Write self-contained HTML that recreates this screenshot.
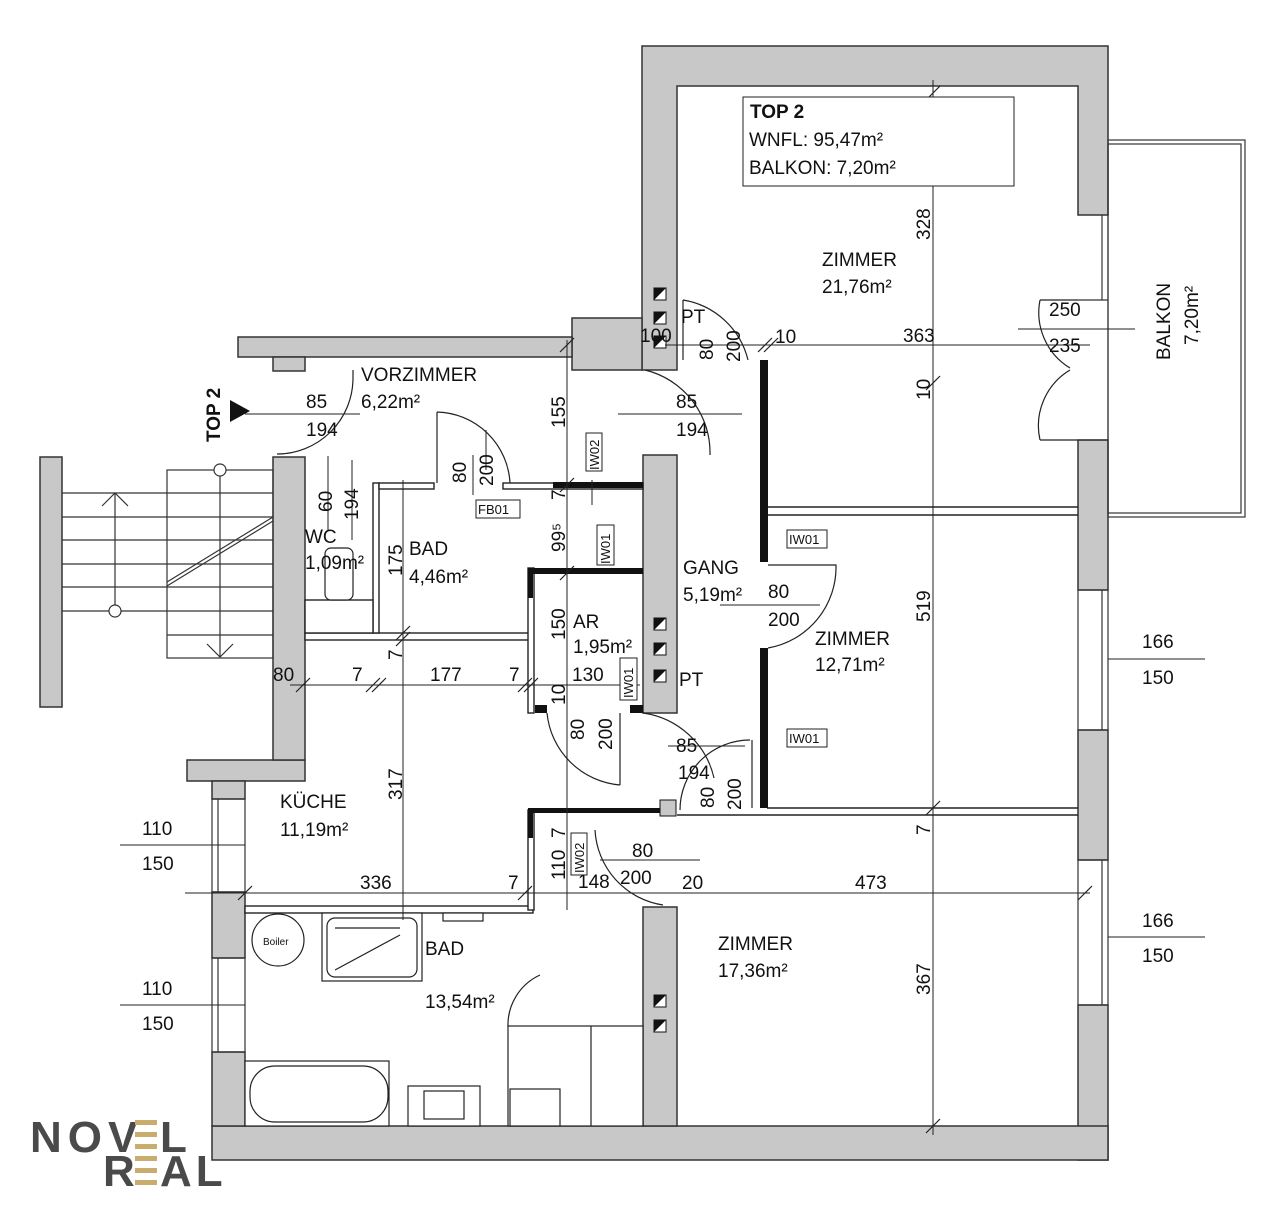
<!DOCTYPE html>
<html><head><meta charset="utf-8"><style>
html,body{margin:0;padding:0;background:#fff;}
svg{display:block;}
text{font-family:"Liberation Sans",sans-serif;fill:#111;}
</style></head><body>
<svg width="1280" height="1208" viewBox="0 0 1280 1208" xmlns="http://www.w3.org/2000/svg">
<g fill="#c8c8c8" stroke="#333" stroke-width="1.5">
<polygon points="642,46 1108,46 1108,215 1078,215 1078,86 677,86 677,370 642,370"/>
<rect x="572" y="318" width="70" height="52"/>
<rect x="238" y="337" width="334" height="20"/>
<rect x="273" y="357" width="32" height="14"/>
<rect x="1078" y="440" width="30" height="150"/>
<rect x="1078" y="730" width="30" height="130"/>
<rect x="1078" y="1005" width="30" height="155"/>
<rect x="212" y="1126" width="896" height="34"/>
<rect x="187" y="760" width="118" height="21"/>
<rect x="273" y="457" width="32" height="303"/>
<rect x="212" y="781" width="33" height="18"/>
<rect x="212" y="892" width="33" height="66"/>
<rect x="212" y="1052" width="33" height="74"/>
<rect x="643" y="455" width="34" height="258"/>
<rect x="643" y="907" width="34" height="219"/>
<rect x="40" y="457" width="22" height="250"/>
</g>
<g fill="none" stroke="#333" stroke-width="1.2">
<rect x="212" y="799" width="33" height="93"/><line x1="218" y1="799" x2="218" y2="892"/>
<rect x="212" y="958" width="33" height="94"/><line x1="218" y1="958" x2="218" y2="1052"/>
<rect x="1078" y="590" width="30" height="140"/><line x1="1102" y1="590" x2="1102" y2="730"/>
<rect x="1078" y="860" width="30" height="145"/><line x1="1102" y1="860" x2="1102" y2="1005"/>
<line x1="1102" y1="215" x2="1102" y2="300"/><line x1="1078" y1="300" x2="1108" y2="300"/>
<line x1="1078" y1="440" x2="1108" y2="440"/>
<rect x="1108" y="140" width="137" height="377"/>
<rect x="1108" y="144" width="133" height="369"/>
</g>
<g fill="#fff" stroke="#222" stroke-width="1.4">
<rect x="305" y="633" width="225" height="7"/>
<rect x="245" y="906" width="288" height="7"/>
<rect x="373" y="483" width="6" height="150"/>
<rect x="379" y="483" width="55" height="6"/>
<rect x="503" y="483" width="140" height="6"/>
<rect x="528" y="568" width="6" height="145"/>
<rect x="528" y="810" width="6" height="100"/>
<rect x="305" y="600" width="68" height="33"/>
<line x1="767" y1="515" x2="1078" y2="515"/>
<line x1="767" y1="507" x2="1078" y2="507"/>
<line x1="767" y1="808" x2="1078" y2="808"/>
<line x1="677" y1="815" x2="1078" y2="815"/>
</g>
<g fill="#111">
<rect x="760" y="360" width="8" height="202"/>
<rect x="760" y="648" width="8" height="160"/>
<rect x="553" y="482" width="90" height="6"/>
<rect x="530" y="568" width="113" height="6"/>
<rect x="528" y="568" width="5" height="30"/>
<rect x="528" y="808" width="135" height="5"/>
<rect x="528" y="808" width="5" height="30"/>
<rect x="535" y="705" width="12" height="8"/>
<rect x="630" y="705" width="13" height="8"/>
</g>
<g stroke="#333" stroke-width="1.2" fill="none">
<rect x="167" y="470" width="106" height="188"/>
<line x1="62" y1="493" x2="273" y2="493"/><line x1="62" y1="517" x2="273" y2="517"/>
<line x1="62" y1="540" x2="273" y2="540"/><line x1="62" y1="564" x2="273" y2="564"/>
<line x1="62" y1="587" x2="273" y2="587"/><line x1="62" y1="611" x2="273" y2="611"/>
<line x1="167" y1="635" x2="273" y2="635"/>
<line x1="115" y1="493" x2="115" y2="610"/><circle cx="115" cy="611" r="6" fill="#fff"/>
<polyline points="102,506 115,493 128,506"/>
<line x1="220" y1="470" x2="220" y2="657"/><circle cx="220" cy="470" r="6" fill="#fff"/>
<polyline points="207,644 220,657 233,644"/>
<line x1="167" y1="582" x2="273" y2="517"/><line x1="167" y1="586" x2="273" y2="521"/>
</g>
<g fill="none" stroke="#222" stroke-width="1.2">
<path d="M353,378 A76,76 0 0 1 277,454"/><line x1="353" y1="378" x2="353" y2="370"/>
<path d="M437,412 A75,75 0 0 1 510,483"/><line x1="437" y1="412" x2="437" y2="483"/>
<path d="M683,300 A80,80 0 0 1 748,360"/><line x1="683" y1="300" x2="683" y2="360"/>
<path d="M645,370 A85,85 0 0 1 710,455"/>
<path d="M768,565 L836,565 A82,82 0 0 1 768,648"/>
<path d="M643,713 A85,85 0 0 1 714,778"/>
<path d="M750,740 A70,70 0 0 0 680,810"/><line x1="752" y1="740" x2="752" y2="808"/>
<path d="M547,713 A80,80 0 0 0 620,785"/><line x1="620" y1="713" x2="620" y2="785"/>
<path d="M595,830 A80,80 0 0 0 663,905"/>
<path d="M1040,300 A65,65 0 0 0 1070,368"/><path d="M1070,370 A65,65 0 0 0 1040,440"/>
<line x1="1040" y1="300" x2="1078" y2="300"/><line x1="1040" y1="440" x2="1078" y2="440"/>
<path d="M540,975 A55,55 0 0 0 508,1027"/>
</g>
<g fill="#fff" stroke="#222" stroke-width="1.2">
<circle cx="278" cy="940" r="26"/>
<rect x="322" y="913" width="100" height="68"/><rect x="327" y="918" width="90" height="59" rx="8"/>
<line x1="335" y1="928" x2="400" y2="928"/><line x1="335" y1="970" x2="400" y2="935"/>
<rect x="245" y="1061" width="144" height="65"/><rect x="250" y="1066" width="138" height="56" rx="25"/>
<rect x="408" y="1086" width="72" height="40"/><rect x="424" y="1091" width="40" height="28"/>
<rect x="508" y="1026" width="135" height="100"/><line x1="591" y1="1026" x2="591" y2="1126"/>
<rect x="510" y="1089" width="50" height="37"/>
<rect x="443" y="913" width="40" height="8"/>
<rect x="325" y="548" width="28" height="52" rx="6"/>
</g>
<text x="263" y="945" font-size="10">Boiler</text>
<g fill="#fff" stroke="#111" stroke-width="1">
<rect x="654" y="288" width="12" height="12"/><rect x="654" y="312" width="12" height="12"/><rect x="654" y="336" width="12" height="12"/>
<rect x="654" y="618" width="12" height="12"/><rect x="654" y="643" width="12" height="12"/><rect x="654" y="670" width="12" height="12"/>
<rect x="654" y="995" width="12" height="12"/><rect x="654" y="1020" width="12" height="12"/>
<rect x="660" y="800" width="16" height="16" fill="#c8c8c8"/>
</g>
<g fill="#111">
<polygon points="654,300 666,288 654,288"/><polygon points="654,324 666,312 654,312"/><polygon points="654,348 666,336 654,336"/>
<polygon points="654,630 666,618 654,618"/><polygon points="654,655 666,643 654,643"/><polygon points="654,682 666,670 654,670"/>
<polygon points="654,1007 666,995 654,995"/><polygon points="654,1032 666,1020 654,1020"/>
<polygon points="230,400 230,422 250,411"/>
</g>
<g stroke="#222" stroke-width="1" fill="none">
<line x1="933" y1="80" x2="933" y2="1135"/>
<line x1="567" y1="340" x2="567" y2="910"/>
<line x1="403" y1="480" x2="403" y2="920"/>
<line x1="665" y1="345" x2="1090" y2="345"/>
<line x1="290" y1="685" x2="640" y2="685"/>
<line x1="185" y1="893" x2="1090" y2="893"/>
<line x1="245" y1="414" x2="360" y2="414"/><line x1="618" y1="414" x2="742" y2="414"/>
<line x1="668" y1="746" x2="745" y2="746"/><line x1="600" y1="860" x2="700" y2="860"/>
<line x1="720" y1="605" x2="820" y2="605"/>
<line x1="1018" y1="329" x2="1135" y2="329"/>
<line x1="120" y1="845" x2="245" y2="845"/><line x1="120" y1="1005" x2="245" y2="1005"/>
<line x1="1108" y1="659" x2="1205" y2="659"/><line x1="1108" y1="937" x2="1205" y2="937"/>
<line x1="473" y1="455" x2="473" y2="495"/><line x1="486" y1="430" x2="486" y2="470"/>
<line x1="592" y1="480" x2="592" y2="505"/>
<line x1="328" y1="456" x2="328" y2="530"/><line x1="352" y1="460" x2="352" y2="540"/>
<g stroke-width="1.2">
<line x1="560" y1="352" x2="574" y2="338"/><line x1="560" y1="492" x2="574" y2="478"/><line x1="560" y1="580" x2="574" y2="566"/>
<line x1="926" y1="100" x2="940" y2="86"/><line x1="926" y1="390" x2="940" y2="376"/><line x1="926" y1="815" x2="940" y2="801"/><line x1="926" y1="1133" x2="940" y2="1119"/>
<line x1="296" y1="692" x2="310" y2="678"/><line x1="366" y1="692" x2="380" y2="678"/><line x1="372" y1="692" x2="386" y2="678"/>
<line x1="518" y1="692" x2="532" y2="678"/><line x1="524" y1="692" x2="538" y2="678"/>
<line x1="238" y1="900" x2="252" y2="886"/><line x1="518" y1="900" x2="532" y2="886"/><line x1="1078" y1="900" x2="1092" y2="886"/>
<line x1="396" y1="640" x2="410" y2="626"/><line x1="396" y1="646" x2="410" y2="632"/>
<line x1="758" y1="352" x2="772" y2="338"/><line x1="764" y1="352" x2="778" y2="338"/>
</g>
</g>
<g fill="#fff" stroke="#222" stroke-width="1">
<rect x="586" y="433" width="16" height="38"/><rect x="476" y="500" width="44" height="18"/>
<rect x="597" y="525" width="17" height="40"/><rect x="787" y="530" width="40" height="18"/>
<rect x="620" y="658" width="17" height="42"/><rect x="787" y="729" width="40" height="18"/>
<rect x="571" y="833" width="16" height="42"/>
<rect x="743" y="97" width="271" height="89"/>
</g>
<g font-size="13">
<text x="478" y="514">FB01</text><text x="789" y="544">IW01</text><text x="789" y="743">IW01</text>
<text transform="translate(599,470) rotate(-90)">IW02</text>
<text transform="translate(610,564) rotate(-90)">IW01</text>
<text transform="translate(633,698) rotate(-90)">IW01</text>
<text transform="translate(584,873) rotate(-90)">IW02</text>
</g>
<g font-size="19">
<text x="750" y="118" font-weight="bold">TOP 2</text>
<text x="749" y="146">WNFL: 95,47m²</text>
<text x="749" y="174">BALKON: 7,20m²</text>
<text x="822" y="266">ZIMMER</text><text x="822" y="293">21,76m²</text>
<text x="361" y="381">VORZIMMER</text><text x="361" y="408">6,22m²</text>
<text x="409" y="555">BAD</text><text x="409" y="583">4,46m²</text>
<text x="305" y="543">WC</text><text x="305" y="569">1,09m²</text>
<text x="683" y="574">GANG</text><text x="683" y="601">5,19m²</text>
<text x="573" y="628">AR</text><text x="573" y="653">1,95m²</text>
<text x="815" y="645">ZIMMER</text><text x="815" y="671">12,71m²</text>
<text x="280" y="808">KÜCHE</text><text x="280" y="836">11,19m²</text>
<text x="425" y="955">BAD</text><text x="425" y="1008">13,54m²</text>
<text x="718" y="950">ZIMMER</text><text x="718" y="977">17,36m²</text>
<text transform="translate(1170,360) rotate(-90)">BALKON</text>
<text transform="translate(1198,345) rotate(-90)">7,20m²</text>
<text transform="translate(220,442) rotate(-90)" font-weight="bold">TOP 2</text>
<text x="306" y="408">85</text><text x="306" y="436">194</text>
<text x="676" y="408">85</text><text x="676" y="436">194</text>
<text x="676" y="752">85</text><text x="678" y="779">194</text>
<text x="768" y="598">80</text><text x="768" y="626">200</text>
<text x="632" y="857">80</text><text x="620" y="884">200</text>
<text x="578" y="888">148</text><text x="682" y="889">20</text><text x="855" y="889">473</text>
<text x="360" y="889">336</text><text x="508" y="889">7</text>
<text x="273" y="681">80</text><text x="352" y="681">7</text><text x="430" y="681">177</text><text x="509" y="681">7</text><text x="572" y="681">130</text>
<text x="679" y="686">PT</text><text x="681" y="323">PT</text>
<text x="640" y="342">100</text><text x="775" y="343">10</text><text x="903" y="342">363</text>
<text x="1049" y="316">250</text><text x="1049" y="352">235</text>
<text x="1142" y="648">166</text><text x="1142" y="684">150</text>
<text x="1142" y="927">166</text><text x="1142" y="962">150</text>
<text x="142" y="835">110</text><text x="142" y="870">150</text>
<text x="142" y="995">110</text><text x="142" y="1030">150</text>
<text transform="translate(565,428) rotate(-90)">155</text>
<text transform="translate(466,483) rotate(-90)">80</text>
<text transform="translate(493,486) rotate(-90)">200</text>
<text transform="translate(332,512) rotate(-90)">60</text>
<text transform="translate(358,520) rotate(-90)">194</text>
<text transform="translate(402,576) rotate(-90)">175</text>
<text transform="translate(565,500) rotate(-90)">7</text>
<text transform="translate(565,552) rotate(-90)">99⁵</text>
<text transform="translate(565,640) rotate(-90)">150</text>
<text transform="translate(402,660) rotate(-90)">7</text>
<text transform="translate(565,705) rotate(-90)">10</text>
<text transform="translate(584,740) rotate(-90)">80</text>
<text transform="translate(612,750) rotate(-90)">200</text>
<text transform="translate(402,800) rotate(-90)">317</text>
<text transform="translate(713,360) rotate(-90)">80</text>
<text transform="translate(740,362) rotate(-90)">200</text>
<text transform="translate(930,240) rotate(-90)">328</text>
<text transform="translate(930,400) rotate(-90)">10</text>
<text transform="translate(930,622) rotate(-90)">519</text>
<text transform="translate(930,835) rotate(-90)">7</text>
<text transform="translate(930,995) rotate(-90)">367</text>
<text transform="translate(714,808) rotate(-90)">80</text>
<text transform="translate(741,810) rotate(-90)">200</text>
<text transform="translate(565,838) rotate(-90)">7</text>
<text transform="translate(565,880) rotate(-90)">110</text>
</g>
<g font-size="44" font-weight="bold">
<text x="30" y="1152" style="fill:#4a4a4a;letter-spacing:6px">NOV</text>
<text x="160" y="1152" style="fill:#4a4a4a">L</text>
<text x="103" y="1186" style="fill:#4a4a4a">R</text>
<text x="160" y="1186" style="fill:#4a4a4a;letter-spacing:4px">AL</text>
</g>
<g fill="#c8ad6e">
<rect x="135" y="1120" width="22" height="5"/><rect x="135" y="1132" width="22" height="5"/><rect x="135" y="1144" width="22" height="5"/>
<rect x="135" y="1156" width="22" height="5"/><rect x="135" y="1168" width="22" height="5"/><rect x="135" y="1180" width="22" height="5"/>
</g>
</svg>
</body></html>
